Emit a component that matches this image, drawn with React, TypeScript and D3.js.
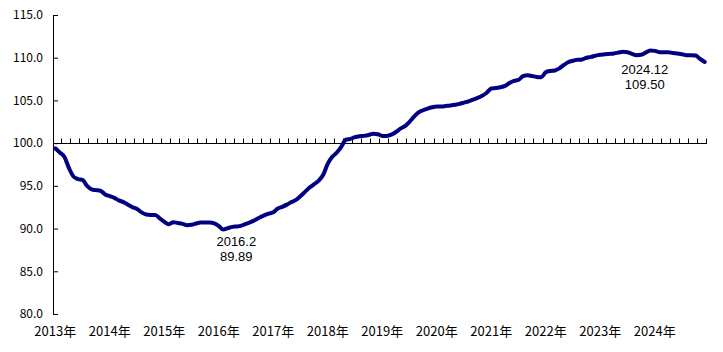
import React, { useRef, useEffect } from "react";
import * as d3 from "d3";

// monthly index, 2013.1 - 2024.12
const priceIndex: number[] = [
  99.4, 98.9, 98.4, 97.1, 96.1, 95.8, 95.7, 95.0, 94.6, 94.5, 94.4, 94.0,
  93.8, 93.6, 93.3, 93.1, 92.8, 92.5, 92.3, 91.9, 91.65, 91.6, 91.6, 91.2,
  90.8, 90.5, 90.75, 90.65, 90.55, 90.4, 90.45, 90.6, 90.7, 90.7, 90.7, 90.6,
  90.3, 89.89, 90.05, 90.2, 90.25, 90.35, 90.55, 90.75, 91.0, 91.3, 91.55, 91.75,
  91.9, 92.35, 92.55, 92.8, 93.1, 93.35, 93.8, 94.3, 94.8, 95.2, 95.6, 96.3,
  97.6, 98.4, 98.9, 99.6, 100.4, 100.5, 100.7, 100.8, 100.85, 100.95, 101.1, 101.05,
  100.85, 100.85, 101.0, 101.3, 101.7, 102.0, 102.5, 103.1, 103.6, 103.85, 104.05, 104.2,
  104.3, 104.3, 104.35, 104.4, 104.5, 104.6, 104.75, 104.9, 105.1, 105.3, 105.55, 105.9,
  106.4, 106.45, 106.55, 106.7, 107.05, 107.3, 107.4, 107.85, 107.95, 107.85, 107.75, 107.7,
  108.3, 108.45, 108.5, 108.75, 109.15, 109.5, 109.65, 109.75, 109.8, 110.0, 110.1, 110.25,
  110.35, 110.4, 110.45, 110.5, 110.6, 110.7, 110.65, 110.45, 110.3, 110.35, 110.6, 110.85,
  110.8, 110.65, 110.65, 110.65, 110.55, 110.5, 110.4, 110.3, 110.3, 110.25, 109.85, 109.5,
];

const years = [2013, 2014, 2015, 2016, 2017, 2018, 2019, 2020, 2021, 2022, 2023, 2024];
const yTicks = [80, 85, 90, 95, 100, 105, 110, 115];

// annotated points: month index, date text, value text, text offset
const noteMonths = [37, 143];
const noteDates = ["2016.2", "2024.12"];
const noteValues = ["89.89", "109.50"];
const noteOffsets = [[13, 11], [-60, 7]];

const App = () => {
  const ref = useRef<SVGSVGElement>(null);

  useEffect(() => {
    const svgWidth = 723;
    const svgHeight = 352;
    const margin = { top: 15, right: 16, bottom: 38, left: 53 };
    const lineColor = "#000080";
    const font = "'Noto Sans CJK SC', sans-serif";
    const noteFont = "'Liberation Sans', sans-serif";

    const svg = d3.select(ref.current)
      .attr("width", svgWidth)
      .attr("height", svgHeight);
    svg.selectAll("*").remove();

    const xScale = d3.scaleBand<number>()
      .domain(d3.range(priceIndex.length))
      .range([margin.left, svgWidth - margin.right])
      .padding(0);

    const yScale = d3.scaleLinear()
      .domain([80, 115])
      .range([svgHeight - margin.bottom, margin.top]);

    const xMid = (i: number) => (xScale(i) as number) + xScale.bandwidth() / 2;

    // Y axis, ticks pointing inward
    const yAxis = svg.append("g")
      .attr("transform", `translate(${margin.left},0)`)
      .call(d3.axisLeft(yScale)
        .tickValues(yTicks)
        .tickSizeInner(-5)
        .tickSizeOuter(0)
        .tickPadding(10)
        .tickFormat(d => (d as number).toFixed(1)));
    yAxis.select(".domain").attr("stroke", "#000");
    yAxis.selectAll("line").attr("stroke", "#000");
    yAxis.selectAll("text")
      .style("font-family", font)
      .style("font-size", "12px")
      .attr("fill", "#000");

    // X axis crossing at 100, tick every 2 months
    const zeroY = Math.round(yScale(100)) + 0.5;
    svg.append("line")
      .attr("x1", margin.left)
      .attr("x2", svgWidth - margin.right)
      .attr("y1", zeroY)
      .attr("y2", zeroY)
      .attr("stroke", "#000");

    const tickXs = d3.range(2, priceIndex.length, 2).map(i => xScale(i) as number)
      .concat([svgWidth - margin.right]);
    svg.append("g")
      .selectAll("line")
      .data(tickXs)
      .enter()
      .append("line")
      .attr("x1", d => Math.round(d) - 0.5)
      .attr("x2", d => Math.round(d) - 0.5)
      .attr("y1", zeroY)
      .attr("y2", zeroY - 5)
      .attr("stroke", "#000");

    // Year labels along the bottom
    svg.append("g")
      .selectAll("text")
      .data(years)
      .enter()
      .append("text")
      .attr("x", (d, k) => xMid(k * 12))
      .attr("y", svgHeight - margin.bottom + 22)
      .attr("text-anchor", "middle")
      .style("font-family", font)
      .style("font-size", "13px")
      .attr("fill", "#000")
      .text(d => d + "年");

    // Line
    const line = d3.line<number>()
      .x((d, i) => xMid(i))
      .y(d => yScale(d))
      .curve(d3.curveMonotoneX);

    svg.append("path")
      .datum(priceIndex)
      .attr("d", line)
      .attr("fill", "none")
      .attr("stroke", lineColor)
      .attr("stroke-width", 4)
      .attr("stroke-linejoin", "round")
      .attr("stroke-linecap", "round");

    // Annotations
    noteMonths.forEach((m, k) => {
      const cx = xMid(m) + noteOffsets[k][0];
      const cy = yScale(priceIndex[m]) + noteOffsets[k][1];
      svg.append("text")
        .attr("x", cx)
        .attr("y", cy + 5)
        .attr("text-anchor", "middle")
        .style("font-family", noteFont)
        .style("font-size", "13px")
        .attr("fill", "#000")
        .text(noteDates[k]);
      svg.append("text")
        .attr("x", cx)
        .attr("y", cy + 20)
        .attr("text-anchor", "middle")
        .style("font-family", noteFont)
        .style("font-size", "13px")
        .attr("fill", "#000")
        .text(noteValues[k]);
    });
  }, []);

  return (
    <div style={{ position: "absolute", left: 0, top: 0 }}>
      <svg ref={ref} style={{ display: "block" }}></svg>
    </div>
  );
};

export default App;
